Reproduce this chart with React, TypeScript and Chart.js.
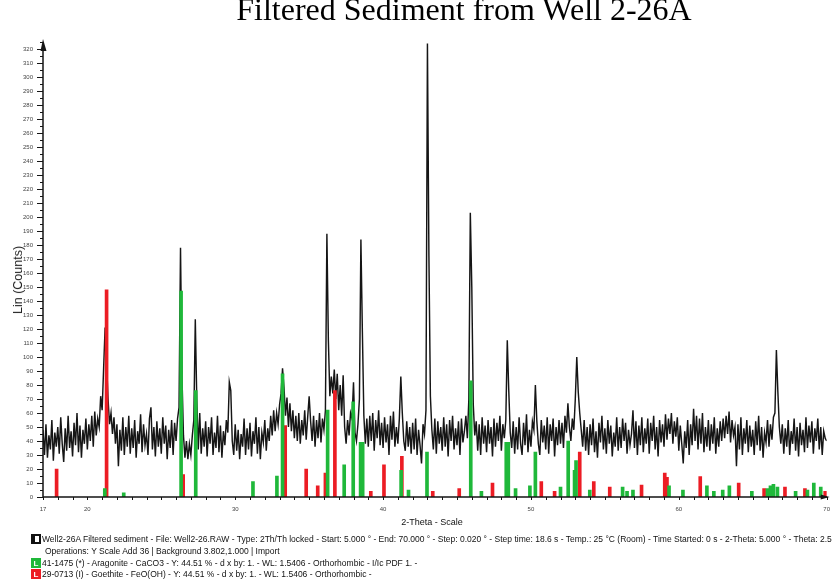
import React, { useEffect, useRef } from 'react';
import { Chart, registerables } from 'chart.js';

Chart.register(...registerables);

// ---------- text ----------
const TITLE = 'Filtered Sediment from Well 2-26A';
const X_TITLE = '2-Theta - Scale';
const Y_TITLE = 'Lin (Counts)';
const LEGEND_SCAN =
  'Well2-26A Filtered sediment - File: Well2-26.RAW - Type: 2Th/Th locked - Start: 5.000 ° - End: 70.000 ° - Step: 0.020 ° - Step time: 18.6 s - Temp.: 25 °C (Room) - Time Started: 0 s - 2-Theta: 5.000 ° - Theta: 2.5';
const LEGEND_OPS = 'Operations: Y Scale Add 36 | Background 3.802,1.000 | Import';
const LEGEND_ARAGONITE =
  '41-1475 (*) - Aragonite - CaCO3 - Y: 44.51 % - d x by: 1. - WL: 1.5406 - Orthorhombic - I/Ic PDF 1. -';
const LEGEND_GOETHITE =
  '29-0713 (I) - Goethite - FeO(OH) - Y: 44.51 % - d x by: 1. - WL: 1.5406 - Orthorhombic -';

// ---------- axes ----------
const X_MIN = 17;
const X_MAX = 70;
const Y_MAX = 325;
const X_LABELS = [17, 20, 30, 40, 50, 60, 70];

// ---------- measured trace (2-theta grid: start 17.0, step 0.1) ----------
const SCAN_START = 17.0;
const SCAN_STEP = 0.1;
const counts17 = [
  48, 30, 52, 28, 44, 34, 55, 26, 46, 36,
  50, 31, 57, 38, 25, 49, 33, 58, 35, 47,
  29, 53, 37, 60, 32, 51, 28, 48, 38, 56,
  34, 52, 40, 58, 36, 61, 44, 56, 50, 72,
  62, 92, 121, 96, 70, 52, 60, 45, 57, 38,
];
const counts22 = [
  52, 22, 48, 33, 57, 30, 50, 36, 58, 31,
  49, 35, 55, 28, 47, 38, 59, 32, 52, 37,
  45, 30, 56, 64, 34, 50, 29, 54, 36, 49,
  31, 57, 38, 51, 27, 48, 35, 55, 30, 53,
  40, 56, 64, 178, 86, 44, 28, 40, 27, 38,
];
const counts27 = [
  30, 44, 55, 127, 70, 34, 60, 31, 49, 36,
  54, 29, 50, 38, 57, 30, 46, 35, 58, 32,
  51, 28, 47, 37, 55, 46, 82, 76, 40, 30,
  52, 33, 48, 27, 45, 36, 56, 30, 49, 34,
  53, 29, 47, 38, 57, 31, 50, 27, 46, 39,
];
const counts32 = [
  55, 33, 49, 40, 58, 44, 62, 47, 60, 52,
  66, 74, 92, 78, 58, 71, 50, 67, 47, 62,
  42, 58, 40, 60, 38, 55, 44, 62, 41, 57,
  72, 54, 40, 58, 36, 55, 42, 60, 39, 56,
  48, 62, 188, 112, 72, 86, 74, 91, 70, 88,
];
const counts37 = [
  62, 80, 58, 87, 50, 38, 55, 44, 60, 56,
  82, 46, 40, 52, 70, 184, 118, 58, 38, 56,
  36, 58, 40, 60, 33, 55, 42, 62, 37, 53,
  35, 57, 39, 52, 30, 58, 41, 61, 36, 50,
  38, 56, 86, 60, 40, 33, 54, 36, 50, 31,
];
const counts42 = [
  53, 34, 56, 30, 48, 37, 24, 52, 45, 62,
  324, 172, 72, 48, 34, 56, 31, 54, 38, 50,
  33, 57, 36, 52, 29, 55, 40, 58, 34, 49,
  37, 54, 30, 56, 39, 47, 58, 42, 70, 203,
  150, 66, 44, 54, 33, 52, 30, 57, 38, 51,
];
const counts47 = [
  32, 55, 38, 50, 29, 56, 36, 53, 40, 58,
  33, 52, 42, 55, 112, 76, 46, 35, 54, 31,
  50, 34, 57, 38, 30, 53, 37, 59, 32, 48,
  36, 54, 48, 80, 54, 38, 30, 55, 39, 51,
  34, 57, 31, 52, 40, 56, 29, 50, 37, 55,
];
const counts52 = [
  38, 53, 35, 58, 46, 67, 50, 40, 56, 48,
  70, 100, 75, 60, 48, 36, 55, 33, 50, 30,
  52, 37, 56, 32, 47, 28, 53, 39, 58, 34,
  49, 31, 55, 38, 51, 29, 46, 36, 57, 33,
  50, 35, 56, 40, 53, 31, 48, 37, 45, 62,
];
const counts57 = [
  35, 54, 30, 51, 37, 57, 32, 49, 38, 56,
  31, 53, 40, 58, 34, 50, 29, 55, 39, 52,
  36, 59, 41, 56, 45, 60, 38, 54, 43, 57,
  33, 51, 38, 24, 47, 35, 55, 30, 52, 37,
  63, 40, 58, 34, 56, 38, 60, 32, 50, 36,
];
const counts62 = [
  55, 33, 52, 38, 57, 31, 49, 36, 54, 40,
  56, 42, 58, 45, 61, 39, 55, 44, 50, 22,
  52, 34, 57, 30, 49, 38, 55, 32, 51, 36,
  48, 30, 54, 37, 58, 33, 50, 28, 46, 39,
  55, 36, 52, 41, 57, 60, 105, 75, 50, 38,
];
const counts67 = [
  52, 31, 49, 36, 55, 30, 47, 38, 56, 33,
  50, 29, 53, 37, 48, 32, 57, 35, 51, 39,
  54, 31, 49, 40, 56, 34, 50, 30, 47, 42,
  40,
];

// ---------- reference patterns (stick positions / heights) ----------
const aragonitePos = [
  21.18, 22.46, 26.34, 27.33, 31.2, 32.82, 33.2, 36.25, 37.37, 37.98,
  38.48, 38.62, 41.22, 41.72, 42.97, 45.93, 46.65, 48.33, 48.47, 48.96,
  49.93, 50.3, 52.0, 52.52, 52.95, 53.05, 53.98, 56.2, 56.5, 56.9,
  59.34, 60.28, 61.9, 62.37, 62.97, 63.42, 64.94, 66.0, 66.2, 66.4,
  66.67, 67.9, 68.7, 69.13, 69.6,
];
const aragoniteInt = [
  6, 3, 147, 76, 11, 15, 88, 62, 23, 68,
  39, 39, 19, 5, 32, 83, 4, 39, 39, 6,
  8, 32, 7, 40, 19, 26, 5, 7, 4, 5,
  8, 5, 8, 4, 5, 8, 4, 6, 8, 9,
  7, 4, 5, 10, 7,
];
const goethitePos = [
  17.92, 21.3, 26.48, 33.38, 34.8, 35.58, 36.1, 36.74, 39.17, 40.06,
  41.27, 43.36, 45.15, 47.4, 50.7, 51.6, 53.3, 54.25, 55.33, 57.48,
  59.05, 59.2, 61.45, 64.05, 65.77, 67.18, 68.53, 69.9,
];
const goethiteInt = [
  20, 148, 16, 51, 20, 8, 17, 76, 4, 23,
  29, 4, 6, 10, 11, 4, 32, 11, 7, 8.5,
  17, 14, 14.5, 10, 6, 7, 6, 4,
];

const GREEN = '#1fb83a';
const RED = '#ec1c24';
const INK = '#151515';

const axesPlugin = {
  id: 'xrdAxes',
  afterDraw(chart: any) {
    const ctx = chart.ctx;
    const { left, right, top, bottom } = chart.chartArea;
    const xs = chart.scales.x;
    const ys = chart.scales.y;
    ctx.save();
    ctx.strokeStyle = INK;
    ctx.fillStyle = INK;
    ctx.lineWidth = 1.5;
    ctx.beginPath();
    ctx.moveTo(left, bottom);
    ctx.lineTo(left, top + 4);
    ctx.moveTo(left, bottom);
    ctx.lineTo(right, bottom);
    ctx.stroke();
    ctx.lineWidth = 1;
    ys.ticks.forEach((t: any) => {
      const y = Math.round(ys.getPixelForValue(t.value)) + 0.5;
      const major = t.value % 10 === 0;
      ctx.beginPath();
      ctx.moveTo(left - (major ? 6 : 3), y);
      ctx.lineTo(left, y);
      ctx.stroke();
    });
    xs.ticks.forEach((t: any) => {
      const x = Math.round(xs.getPixelForValue(t.value)) + 0.5;
      ctx.beginPath();
      ctx.moveTo(x, bottom);
      ctx.lineTo(x, bottom + 3);
      ctx.stroke();
    });
    // arrow heads
    ctx.beginPath();
    ctx.moveTo(left, top - 3);
    ctx.lineTo(left - 2.5, top + 9);
    ctx.lineTo(left + 3.5, top + 9);
    ctx.closePath();
    ctx.fill();
    ctx.beginPath();
    ctx.moveTo(right + 3, bottom);
    ctx.lineTo(right - 6, bottom - 2.5);
    ctx.lineTo(right - 6, bottom + 2.5);
    ctx.closePath();
    ctx.fill();
    ctx.restore();
  },
};

const tickFont = { family: '"Liberation Sans", Arial, sans-serif', size: 6 };

function Icon({ bg, mark }: { bg: string; mark: string }) {
  return (
    <span
      style={{
        position: 'absolute',
        left: 31,
        top: 0,
        width: 10,
        height: 10,
        background: bg,
        color: '#fff',
        fontSize: 8,
        lineHeight: '10px',
        fontWeight: 700,
        textAlign: 'center',
        boxSizing: 'border-box',
        border: '1px solid ' + bg,
      }}
    >
      {mark}
    </span>
  );
}

export default function App() {
  const ref = useRef<HTMLCanvasElement>(null);

  useEffect(() => {
    const canvas = ref.current;
    if (!canvas) return;
    const counts = [
      ...counts17, ...counts22, ...counts27, ...counts32, ...counts37,
      ...counts42, ...counts47, ...counts52, ...counts57, ...counts62, ...counts67,
    ];
    const trace = counts.map((y, i) => ({
      x: Math.round((SCAN_START + i * SCAN_STEP) * 100) / 100,
      y,
    }));
    const arag = aragonitePos.map((x, i) => ({ x, y: aragoniteInt[i] }));
    const goet = goethitePos.map((x, i) => ({ x, y: goethiteInt[i] }));

    const chart = new Chart(canvas, {
      type: 'line',
      data: {
        datasets: [
          {
            type: 'bar',
            label: 'Aragonite',
            data: arag,
            backgroundColor: GREEN,
            barThickness: 3,
            grouped: false,
            order: 0,
          } as any,
          {
            type: 'bar',
            label: 'Goethite',
            data: goet,
            backgroundColor: RED,
            barThickness: 3,
            grouped: false,
            order: 1,
          } as any,
          {
            type: 'line',
            label: 'Well2-26A',
            data: trace,
            borderColor: INK,
            borderWidth: 1.45,
            pointRadius: 0,
            tension: 0,
            order: 2,
          } as any,
        ],
      },
      options: {
        responsive: false,
        animation: false,
        devicePixelRatio: 1,
        events: [],
        layout: { padding: { left: 0, right: 4, top: 42, bottom: 62 } },
        plugins: {
          legend: { display: false },
          tooltip: { enabled: false },
          title: { display: false },
        },
        scales: {
          x: {
            type: 'linear',
            min: X_MIN,
            max: X_MAX,
            offset: false,
            grid: { display: false, drawTicks: true, tickLength: 4 },
            border: { display: false },
            ticks: {
              stepSize: 1,
              autoSkip: false,
              maxRotation: 0,
              minRotation: 0,
              padding: 5,
              font: tickFont,
              color: '#444',
              callback: (v: any) => (X_LABELS.includes(Number(v)) ? String(v) : ''),
            },
            afterFit: (s: any) => {
              s.height = 20;
            },
          },
          y: {
            type: 'linear',
            min: 0,
            max: Y_MAX,
            grid: { display: false, drawTicks: true, tickLength: 6 },
            border: { display: false },
            ticks: {
              stepSize: 5,
              autoSkip: false,
              padding: 4,
              font: tickFont,
              color: '#444',
              callback: (v: any) => (Number(v) % 10 === 0 ? String(v) : ''),
            },
            afterFit: (s: any) => {
              s.width = 43;
            },
          },
        } as any,
      },
      plugins: [axesPlugin],
    });
    return () => chart.destroy();
  }, []);

  const sans = '"Liberation Sans", Arial, sans-serif';
  const row = (top: number, left: number): React.CSSProperties => ({
    position: 'absolute',
    left,
    top,
    fontSize: 8.5,
    lineHeight: '10px',
    whiteSpace: 'nowrap',
    color: '#111',
  });

  return (
    <div
      style={{
        position: 'fixed',
        left: 0,
        top: 0,
        width: 835,
        height: 579,
        background: '#fff',
        overflow: 'hidden',
        fontFamily: sans,
      }}
    >
      <canvas
        ref={ref}
        width={835}
        height={579}
        style={{ position: 'absolute', left: 0, top: 0, width: 835, height: 579 }}
      />
      <div
        style={{
          position: 'absolute',
          left: 464,
          top: -7,
          transform: 'translateX(-50%)',
          fontFamily: '"Liberation Serif", "Times New Roman", serif',
          fontSize: 32,
          lineHeight: '32px',
          whiteSpace: 'nowrap',
          color: '#000',
        }}
      >
        {TITLE}
      </div>
      <div
        style={{
          position: 'absolute',
          left: 18,
          top: 280,
          transform: 'translate(-50%, -50%) rotate(-90deg)',
          fontSize: 12.5,
          whiteSpace: 'nowrap',
          color: '#222',
        }}
      >
        {Y_TITLE}
      </div>
      <div
        style={{
          position: 'absolute',
          left: 432,
          top: 517,
          transform: 'translateX(-50%)',
          fontSize: 9,
          lineHeight: '10px',
          whiteSpace: 'nowrap',
          color: '#111',
        }}
      >
        {X_TITLE}
      </div>
      <div style={{ position: 'absolute', left: 0, top: 534, width: 835, height: 10 }}>
        <span
          style={{
            position: 'absolute',
            left: 31,
            top: 0,
            width: 10,
            height: 10,
            boxSizing: 'border-box',
            border: '2px solid #111',
            background: '#fff',
            boxShadow: 'inset 2px 0 0 #111',
          }}
        />
        <span style={row(0, 42)}>{LEGEND_SCAN}</span>
      </div>
      <div style={row(546, 45)}>{LEGEND_OPS}</div>
      <div style={{ position: 'absolute', left: 0, top: 558, width: 835, height: 10 }}>
        <Icon bg={GREEN} mark="L" />
        <span style={row(0, 42)}>{LEGEND_ARAGONITE}</span>
      </div>
      <div style={{ position: 'absolute', left: 0, top: 569, width: 835, height: 10 }}>
        <Icon bg={RED} mark="L" />
        <span style={row(0, 42)}>{LEGEND_GOETHITE}</span>
      </div>
    </div>
  );
}
